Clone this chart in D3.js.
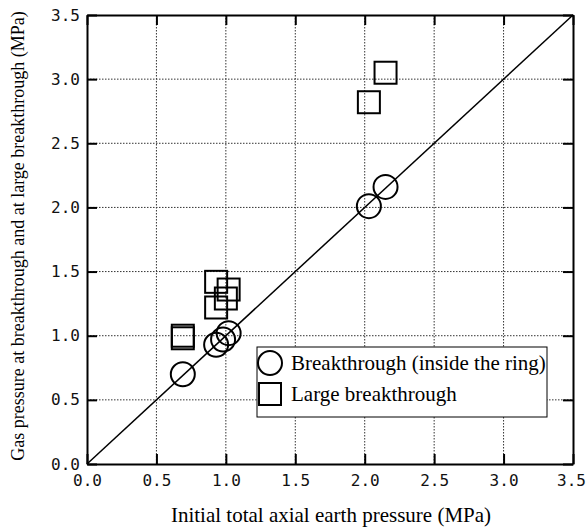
<!DOCTYPE html>
<html>
<head>
<meta charset="utf-8">
<script src="https://cdn.jsdelivr.net/npm/d3@7"></script>
<style>
  body { margin: 0; background: #fff; }
  svg { display: block; }
</style>
</head>
<body>
<div id="chart"></div>
<script>
// values (MPa)
const ticks = [0, 0.5, 1.0, 1.5, 2.0, 2.5, 3.0, 3.5];
const tickLabels = ["0.0", "0.5", "1.0", "1.5", "2.0", "2.5", "3.0", "3.5"];

const breakX = [0.69, 0.93, 0.98, 1.02, 2.03, 2.15];
const breakY = [0.70, 0.93, 0.97, 1.02, 2.01, 2.16];

const largeX = [0.69, 0.69, 0.93, 1.02, 1.00, 0.93, 2.03, 2.15];
const largeY = [1.00, 0.98, 1.42, 1.36, 1.29, 1.22, 2.82, 3.05];

const legendLabels = ["Breakthrough (inside the ring)", "Large breakthrough"];

const W = 587, H = 532;
const pLeft = 87, pRight = 573, pTop = 15, pBottom = 464;

const svg = d3.select("#chart").append("svg")
    .attr("width", W)
    .attr("height", H);

const x = d3.scaleLinear().domain([0, 3.5]).range([pLeft, pRight]);
const y = d3.scaleLinear().domain([0, 3.5]).range([pBottom, pTop]);

// dotted grid
const grid = svg.append("g")
    .attr("stroke", "#333")
    .attr("stroke-width", 1)
    .attr("stroke-dasharray", "1.5,1.5");
grid.selectAll("line.v")
    .data(ticks.slice(1, -1))
    .join("line")
    .attr("class", "v")
    .attr("x1", d => x(d)).attr("x2", d => x(d))
    .attr("y1", pTop).attr("y2", pBottom);
grid.selectAll("line.h")
    .data(ticks.slice(1, -1))
    .join("line")
    .attr("class", "h")
    .attr("y1", d => y(d)).attr("y2", d => y(d))
    .attr("x1", pLeft).attr("x2", pRight);

// 1:1 line
svg.append("line")
    .attr("x1", x(0)).attr("y1", y(0))
    .attr("x2", x(3.5)).attr("y2", y(3.5))
    .attr("stroke", "black")
    .attr("stroke-width", 1.5);

// axes, ticks pointing inwards
const fmt = (d, i) => tickLabels[i];
const xAxis = svg.append("g")
    .attr("transform", `translate(0,${pBottom})`)
    .call(d3.axisBottom(x).tickValues(ticks).tickFormat(fmt)
        .tickSizeInner(-10).tickSizeOuter(0).tickPadding(11));
svg.append("g")
    .attr("transform", `translate(${pLeft},0)`)
    .call(d3.axisLeft(y).tickValues(ticks).tickFormat(fmt)
        .tickSizeInner(-10).tickSizeOuter(0).tickPadding(7));
svg.append("g")
    .attr("transform", `translate(0,${pTop})`)
    .call(d3.axisTop(x).tickValues(ticks).tickFormat("")
        .tickSizeInner(-10).tickSizeOuter(0));
svg.append("g")
    .attr("transform", `translate(${pRight},0)`)
    .call(d3.axisRight(y).tickValues(ticks).tickFormat("")
        .tickSizeInner(-10).tickSizeOuter(0));

svg.selectAll(".domain").attr("stroke-width", 2);
svg.selectAll(".tick line").attr("stroke-width", 2);
svg.selectAll(".tick text")
    .attr("font-family", "'DejaVu Sans Mono', monospace")
    .attr("font-size", "16px")
    .attr("fill", "#111");
// last x label sits a little left so it stays inside the page
xAxis.selectAll(".tick text").filter(d => d === 3.5).attr("dx", -2);

// axis titles
svg.append("text")
    .attr("x", 331)
    .attr("y", 522)
    .attr("text-anchor", "middle")
    .attr("font-family", "'Liberation Serif', 'Times New Roman', serif")
    .attr("font-size", "21px")
    .text("Initial total axial earth pressure (MPa)");

svg.append("text")
    .attr("transform", "translate(24,236) rotate(-90)")
    .attr("text-anchor", "middle")
    .attr("font-family", "'Liberation Serif', 'Times New Roman', serif")
    .attr("font-size", "18px")
    .text("Gas pressure at breakthrough and at large breakthrough (MPa)");

// markers
const r = 12, s = 22;
svg.append("g")
    .selectAll("circle")
    .data(d3.zip(breakX, breakY))
    .join("circle")
    .attr("cx", d => x(d[0]))
    .attr("cy", d => y(d[1]))
    .attr("r", r)
    .attr("fill", "none")
    .attr("stroke", "black")
    .attr("stroke-width", 2);

svg.append("g")
    .selectAll("rect")
    .data(d3.zip(largeX, largeY))
    .join("rect")
    .attr("x", d => x(d[0]) - s / 2)
    .attr("y", d => y(d[1]) - s / 2)
    .attr("width", s)
    .attr("height", s)
    .attr("fill", "none")
    .attr("stroke", "black")
    .attr("stroke-width", 2);

// legend
const legend = svg.append("g")
    .attr("transform", "translate(257,347)");
legend.append("rect")
    .attr("width", 290)
    .attr("height", 70)
    .attr("fill", "white")
    .attr("stroke", "black")
    .attr("stroke-width", 1);
legend.append("circle")
    .attr("cx", 13).attr("cy", 16).attr("r", r)
    .attr("fill", "none").attr("stroke", "black").attr("stroke-width", 2);
legend.append("rect")
    .attr("x", 13 - s / 2).attr("y", 47 - s / 2)
    .attr("width", s).attr("height", s)
    .attr("fill", "none").attr("stroke", "black").attr("stroke-width", 2);
legend.selectAll("text")
    .data(legendLabels)
    .join("text")
    .attr("x", 34)
    .attr("y", (d, i) => 16 + i * 31)
    .attr("dominant-baseline", "central")
    .attr("font-family", "'Liberation Serif', 'Times New Roman', serif")
    .attr("font-size", "21px")
    .text(d => d);
</script>
</body>
</html>
